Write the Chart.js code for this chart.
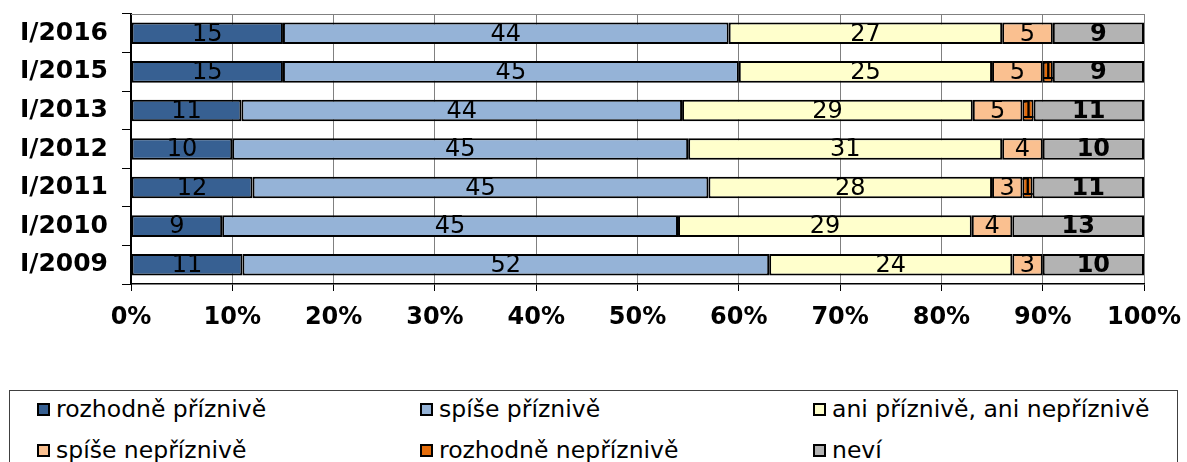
<!DOCTYPE html>
<html>
<head>
<meta charset="utf-8">
<script src="https://cdn.jsdelivr.net/npm/chart.js@4/dist/chart.umd.min.js"></script>
<style>
    body { margin: 0; background: #fff; width: 1187px; height: 462px; overflow: hidden; position: relative; font-family: "DejaVu Sans", sans-serif; }
    #chart-wrap { position: absolute; left: 0; top: 0; width: 1187px; height: 344px; }
    #legend { position: absolute; left: 9px; top: 390px; width: 1169px; height: 100px; border: 1px solid #404040; box-sizing: border-box; }
    .item { position: absolute; display: flex; align-items: center; font-size: 23.5px; color: #000; white-space: nowrap; height: 30px; }
    .box { width: 13px; height: 13px; border: 2px solid #000; box-sizing: border-box; margin-right: 6px; }
</style>
</head>
<body>
<div id="chart-wrap"><canvas id="chart" width="1187" height="344"></canvas></div>
<div id="legend"></div>
<script>
// Data
const years = ['I/2016', 'I/2015', 'I/2013', 'I/2012', 'I/2011', 'I/2010', 'I/2009'];
const seriesNames = ['rozhodně příznivě', 'spíše příznivě', 'ani příznivě, ani nepříznivě', 'spíše nepříznivě', 'rozhodně nepříznivě', 'neví'];
const rozhodnePrizrive = [15, 15, 10.9, 10, 12, 9, 11];
const spisePriznive = [44, 45, 43.5, 45, 45, 45, 52];
const aniAni = [27, 25, 28.7, 31, 28, 29, 24];
const spiseNepriznive = [5, 5, 4.9, 4, 3, 4, 3];
const rozhodneNepriznive = [0, 1, 1.1, 0, 1, 0, 0];
const nevi = [9, 9, 10.9, 10, 11, 13, 10];
const xTicks = [0, 10, 20, 30, 40, 50, 60, 70, 80, 90, 100];

const seriesColors = ['#376092', '#95B3D7', '#FFFFCC', '#FAC090', '#E46C0A', '#B3B3B3'];
const seriesValues = [rozhodnePrizrive, spisePriznive, aniAni, spiseNepriznive, rozhodneNepriznive, nevi];

// Value labels drawn in the middle of each segment
const segmentLabels = {
    id: 'segmentLabels',
    afterDatasetsDraw(chart) {
        const ctx = chart.ctx;
        ctx.save();
        ctx.textAlign = 'center';
        ctx.textBaseline = 'middle';
        ctx.fillStyle = '#000';
        chart.data.datasets.forEach((ds, di) => {
            const meta = chart.getDatasetMeta(di);
            ctx.font = (di === 5 ? 'bold ' : '') + '24px "DejaVu Sans"';
            meta.data.forEach((el, i) => {
                const v = ds.data[i];
                if (!v) return;
                ctx.fillText(Math.round(v), (el.x + el.base) / 2, el.y + 1);
            });
        });
        ctx.restore();
    }
};

// Grey frame line on top of the plot area
const topLine = {
    id: 'topLine',
    afterDraw(chart) {
        const a = chart.chartArea;
        const ctx = chart.ctx;
        ctx.save();
        ctx.strokeStyle = '#808080';
        ctx.lineWidth = 1;
        ctx.beginPath();
        ctx.moveTo(a.left, a.top + 0.5);
        ctx.lineTo(a.right, a.top + 0.5);
        ctx.stroke();
        ctx.restore();
    }
};

const ctx = document.getElementById('chart').getContext('2d');
const chart = new Chart(ctx, {
    type: 'bar',
    data: {
        labels: years,
        datasets: seriesNames.map((name, i) => ({
            label: name,
            data: seriesValues[i],
            backgroundColor: seriesColors[i],
            borderColor: '#000',
            borderWidth: 2,
            borderSkipped: false,
            barPercentage: 0.56,
            categoryPercentage: 1
        }))
    },
    options: {
        indexAxis: 'y',
        responsive: false,
        devicePixelRatio: 1,
        animation: false,
        layout: { padding: { top: 14, right: 43, left: 0, bottom: 0 } },
        plugins: {
            legend: { display: false },
            tooltip: { enabled: false }
        },
        scales: {
            x: {
                stacked: true,
                min: 0,
                max: 100,
                afterBuildTicks: (s) => { s.ticks = xTicks.map(v => ({ value: v })); },
                afterFit: (s) => { s.height = 60; s.paddingLeft = 0; s.paddingRight = 0; },
                grid: { color: '#808080', lineWidth: 1, tickColor: '#000', tickLength: 7 },
                border: { color: '#000', width: 1.5 },
                ticks: {
                    callback: v => v + '%',
                    color: '#000',
                    padding: 12,
                    maxRotation: 0,
                    font: { family: 'DejaVu Sans', size: 24, weight: 'bold' }
                }
            },
            y: {
                stacked: true,
                afterFit: (s) => { s.width = 131; s.paddingTop = 0; s.paddingBottom = 0; },
                grid: { drawOnChartArea: false, tickLength: 9, tickColor: '#000', offset: true },
                border: { color: '#000', width: 2 },
                ticks: {
                    color: '#000',
                    padding: 14,
                    font: { family: 'DejaVu Sans', size: 25, weight: 'bold' }
                }
            }
        }
    },
    plugins: [segmentLabels, topLine]
});

// HTML legend in three columns
function renderLegend() {
    const legend = document.getElementById('legend');
    const colLeft = [37, 420, 813];
    const rowMid = [409, 450];
    chart.data.datasets.forEach((ds, i) => {
        const item = document.createElement('div');
        item.className = 'item';
        item.style.left = (colLeft[i % 3] - 10) + 'px';
        item.style.top = (rowMid[Math.floor(i / 3)] - 391 - 15) + 'px';
        item.innerHTML = `<span class="box" style="background:${ds.backgroundColor}"></span><span>${ds.label}</span>`;
        legend.appendChild(item);
    });
}
renderLegend();
</script>
</body>
</html>
